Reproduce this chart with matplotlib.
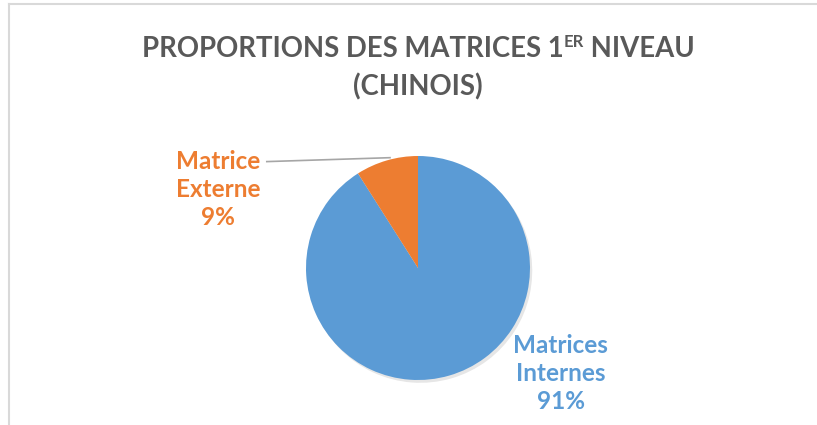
import matplotlib
matplotlib.use("Agg")
import matplotlib.pyplot as plt

plt.rcParams['font.family'] = ['Lato', 'DejaVu Sans']

# data
labels = ['Matrices\nInternes', 'Matrice\nExterne']
values = [91, 9]
colors = ['#5B9BD5', '#ED7D31']

title_main = 'PROPORTIONS DES MATRICES 1'
title_sup = 'ER'
title_end = ' NIVEAU'
title_line2 = '(CHINOIS)'

W, H = 817, 425
fig = plt.figure(figsize=(W / 100, H / 100), dpi=100)

# chart frame (only top and left edges visible)
fig.add_artist(plt.Line2D([9 / W, 9 / W], [0, 1 - 4 / H], color='#d9d9d9', lw=1.5))
fig.add_artist(plt.Line2D([9 / W, 1], [1 - 4 / H, 1 - 4 / H], color='#d9d9d9', lw=1.5))

# pie axes: centre (418, 268) px, radius 112 px
cx, cy, r = 418, 268, 112
ax = fig.add_axes([(cx - r) / W, (H - cy - r) / H, 2 * r / W, 2 * r / H])

# soft shadow
ax.pie(values, radius=1.0, center=(0.02, -0.025), startangle=90, counterclock=False,
       colors=['#e6e6e6', '#e6e6e6'], wedgeprops=dict(linewidth=0))
ax.pie(values, radius=1.0, startangle=90, counterclock=False,
       colors=colors, wedgeprops=dict(linewidth=0))
ax.set_xlim(-1, 1)
ax.set_ylim(-1, 1)
ax.set_aspect('equal')
ax.axis('off')

total = sum(values)
pct = [f'{round(v / total * 100)}%' for v in values]

# data labels
ax.text(1.275, -0.94, f'{labels[0]}\n{pct[0]}', color=colors[0], fontsize=17.5,
        fontweight='bold', ha='center', va='center', linespacing=1.25, clip_on=False)
ax.text(-1.786, 0.70, f'{labels[1]}\n{pct[1]}', color=colors[1], fontsize=17.5,
        fontweight='bold', ha='center', va='center', linespacing=1.25, clip_on=False)

# leader line for the small slice
ax.plot([-1.35, -0.25], [0.95, 0.985], color='#a6a6a6', lw=1.2, clip_on=False)

# title with superscript
fig.canvas.draw()
rend = fig.canvas.get_renderer()
tkw = dict(color='#595959', fontsize=19.8, fontweight='bold')
t1 = fig.text(0, 0, title_main, **tkw)
t2 = fig.text(0, 0, title_sup, color='#595959', fontsize=12, fontweight='bold')
t3 = fig.text(0, 0, title_end, **tkw)
w1 = t1.get_window_extent(rend).width
w2 = t2.get_window_extent(rend).width
w3 = t3.get_window_extent(rend).width
x0 = 418 - (w1 + w2 + w3) / 2
yb = H - 57
t1.set_position((x0 / W, yb / H))
t2.set_position(((x0 + w1) / W, (yb + 10) / H))
t3.set_position(((x0 + w1 + w2) / W, yb / H))
fig.text(418 / W, (H - 95) / H, title_line2, ha='center', **tkw)

fig.savefig('out.png', dpi=100)
